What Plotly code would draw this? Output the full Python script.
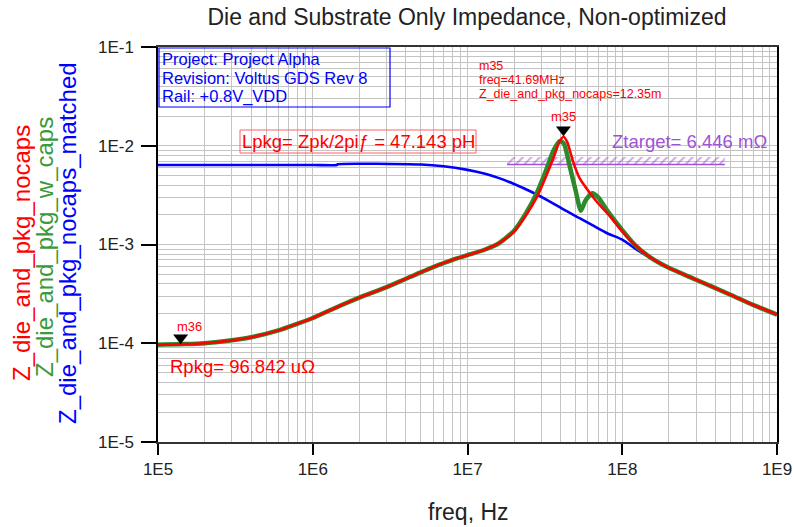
import numpy as np
import plotly.graph_objects as go

# ---------------- data ----------------
freq_red = [1e5, 1.5e5, 2e5, 3e5, 4e5, 6e5, 8e5, 1e6, 1.5e6, 2e6, 3e6, 4e6, 6e6, 8e6,
            1e7, 1.3e7, 1.6e7, 2e7, 2.4e7, 2.8e7, 3.2e7, 3.6e7, 3.9e7, 4.169e7, 4.4e7,
            4.8e7, 5.3e7, 6.2e7, 7e7, 8.3e7, 1e8, 1.2e8, 1.5e8, 2e8, 3e8, 5e8, 7e8, 1e9]
z_nocaps = [9.68e-5, 9.8e-5, 1.0e-4, 1.07e-4, 1.15e-4, 1.35e-4, 1.58e-4, 1.8e-4, 2.4e-4,
            2.9e-4, 3.7e-4, 4.5e-4, 5.9e-4, 7.0e-4, 7.8e-4, 8.9e-4, 1.03e-3, 1.35e-3,
            2.0e-3, 3.0e-3, 4.8e-3, 7.6e-3, 1.07e-2, 1.235e-2, 1.1e-2, 7.0e-3, 4.7e-3,
            3.3e-3, 2.6e-3, 1.95e-3, 1.35e-3, 1.0e-3, 7.5e-4, 5.8e-4, 4.4e-4, 3.1e-4,
            2.45e-4, 1.95e-4]

freq_green = [1e5, 1.5e5, 2e5, 3e5, 4e5, 6e5, 8e5, 1e6, 1.5e6, 2e6, 3e6, 4e6, 6e6, 8e6,
              1e7, 1.3e7, 1.6e7, 2e7, 2.4e7, 2.8e7, 3.2e7, 3.6e7, 3.96e7, 4.2e7, 4.6e7,
              5.0e7, 5.4e7, 5.8e7, 6.4e7, 7e7, 8e7, 1e8, 1.2e8, 1.5e8, 2e8, 3e8, 5e8, 7e8, 1e9]
z_w_caps = [9.68e-5, 9.8e-5, 1.0e-4, 1.07e-4, 1.15e-4, 1.35e-4, 1.58e-4, 1.8e-4, 2.4e-4,
            2.9e-4, 3.7e-4, 4.5e-4, 5.9e-4, 7.0e-4, 7.8e-4, 8.9e-4, 1.03e-3, 1.38e-3,
            2.1e-3, 3.3e-3, 5.5e-3, 9.0e-3, 1.12e-2, 1.05e-2, 6.0e-3, 3.5e-3, 2.2e-3,
            2.8e-3, 3.3e-3, 3.0e-3, 2.2e-3, 1.4e-3, 1.0e-3, 7.5e-4, 5.8e-4, 4.4e-4,
            3.1e-4, 2.45e-4, 1.95e-4]

freq_blue = [1e5, 1e6, 1.43e6, 1.45e6, 5e6, 7e6, 1e7, 1.3e7, 1.6e7, 2e7, 2.6e7, 3.3e7,
             4.2e7, 5.3e7, 6.5e7, 8e7, 1e8, 1.2e8, 1.5e8, 2e8, 3e8, 5e8, 7e8, 1e9]
z_matched = [6.38e-3, 6.38e-3, 6.38e-3, 6.5e-3, 6.45e-3, 6.2e-3, 5.7e-3, 5.2e-3, 4.7e-3,
             4.1e-3, 3.4e-3, 2.8e-3, 2.25e-3, 1.85e-3, 1.55e-3, 1.3e-3, 1.12e-3, 9.2e-4,
             7.4e-4, 5.8e-4, 4.4e-4, 3.1e-4, 2.45e-4, 1.95e-4]

ztarget = 6.446e-3
ztarget_band_top = 7.7e-3
ztarget_band_freq = [1.8e7, 4.6e8]

m35_freq, m35_val = 41.69e6, 12.35e-3
m36_freq, m36_val = 1.4e5, 96.842e-6

x_ticks = [1e5, 1e6, 1e7, 1e8, 1e9]
x_ticktext = ["1E5", "1E6", "1E7", "1E8", "1E9"]
y_ticks = [1e-5, 1e-4, 1e-3, 1e-2, 1e-1]
y_ticktext = ["1E-5", "1E-4", "1E-3", "1E-2", "1E-1"]

title = "Die and Substrate Only Impedance, Non-optimized"
info_lines = ["Project: Project Alpha", "Revision: Voltus GDS Rev 8", "Rail: +0.8V_VDD"]
m35_lines = ["m35", "freq=41.69MHz", "Z_die_and_pkg_nocaps=12.35m"]

# ---------------- styling ----------------
RED, GREEN, BLUE, PURPLE = "#ff0000", "#2b8a2b", "#0000ff", "#a052d6"
FONT = "Liberation Sans, Arial, sans-serif"
W, H = 794, 527
L, R, T, B = 158, 17, 47, 85
PW, PH = W - L - R, H - T - B
DEC_PX = PH / 4.0


def px(x):
    return (x - L) / PW


def py(y):
    return (H - B - y) / PH


def minor_vals(lo, hi):
    out = []
    for e in range(lo, hi):
        for d in range(2, 10):
            out.append(d * 10.0 ** e)
    return out


def text_ann(x, y, text, size, color, xanchor="center", **kw):
    d = dict(x=px(x), y=py(y), xref="paper", yref="paper", text=text, showarrow=False,
             xanchor=xanchor, yanchor="middle", font=dict(size=size, color=color, family=FONT))
    d.update(kw)
    return d


fig = go.Figure()

# Ztarget hatched band
fx = [ztarget_band_freq[0], ztarget_band_freq[1], ztarget_band_freq[1], ztarget_band_freq[0], ztarget_band_freq[0]]
fy = [ztarget, ztarget, ztarget_band_top, ztarget_band_top, ztarget]
fig.add_trace(go.Scatter(x=fx, y=fy, mode="lines", fill="toself", line=dict(width=0, color=PURPLE),
                         fillcolor="rgba(255,255,255,0)",
                         fillpattern=dict(shape="/", fgcolor=PURPLE, bgcolor="rgba(255,255,255,0)",
                                          size=6, solidity=0.35),
                         hoverinfo="skip", showlegend=False))
fig.add_trace(go.Scatter(x=ztarget_band_freq, y=[ztarget, ztarget], mode="lines",
                         line=dict(color=PURPLE, width=1.5), showlegend=False))

fig.add_trace(go.Scatter(x=freq_blue, y=z_matched, mode="lines",
                         line=dict(color=BLUE, width=2.6, shape="spline", smoothing=0.6), showlegend=False))
fig.add_trace(go.Scatter(x=freq_green, y=z_w_caps, mode="lines",
                         line=dict(color=GREEN, width=4.5, shape="spline", smoothing=0.6), showlegend=False))
fig.add_trace(go.Scatter(x=freq_red, y=z_nocaps, mode="lines",
                         line=dict(color=RED, width=2.6, shape="spline", smoothing=0.6), showlegend=False))

# markers (triangles sit just above the marked points)
off = 10 ** (7 / DEC_PX)
fig.add_trace(go.Scatter(x=[m35_freq, m36_freq], y=[m35_val * off, m36_val * off], mode="markers",
                         marker=dict(symbol="triangle-down", size=13, color="black"), showlegend=False))

ann = []
ann.append(dict(x=np.log10(m35_freq), y=np.log10(m35_val), xref="x", yref="y", text="m35",
                showarrow=False, yshift=20, xanchor="center", yanchor="middle",
                font=dict(size=13, color=RED, family=FONT)))
ann.append(dict(x=np.log10(m36_freq), y=np.log10(m36_val), xref="x", yref="y", text="m36",
                showarrow=False, yshift=18, xshift=9, xanchor="center", yanchor="middle",
                font=dict(size=13, color=RED, family=FONT)))

# info box
for i, t in enumerate(info_lines):
    ann.append(text_ann(160, 59.5 + 18.5 * i, t, 16.5, BLUE, xanchor="left"))
for i, t in enumerate(m35_lines):
    ann.append(text_ann(477, 66 + 14 * i, t, 12.5, RED, xanchor="left"))

ann.append(text_ann(358, 141.5, "Lpkg= Zpk/2pi\u0192 = 47.143 pH", 18.5, RED))
ann.append(text_ann(689, 141, "Ztarget= 6.446 m\u03a9", 18.5, PURPLE))
ann.append(text_ann(168, 366, "Rpkg= 96.842 u\u03a9", 18.5, RED, xanchor="left"))

# y axis titles (three coloured lines)
ann.append(text_ann(21, 253, "Z_die_and_pkg_nocaps", 24, RED, textangle=-90))
ann.append(text_ann(44, 247, "Z_die_and_pkg_w_caps", 24, "#3a9a3a", textangle=-90))
ann.append(text_ann(67, 243, "Z_die_and_pkg_nocaps_matched", 24, BLUE, textangle=-90))
# x axis title
ann.append(text_ann(468, 512, "freq, Hz", 23, "#222"))

shapes = [
    dict(type="rect", xref="paper", yref="paper", x0=px(159), x1=px(390), y0=py(107), y1=py(48),
         line=dict(color=BLUE, width=1.2)),
    dict(type="rect", xref="paper", yref="paper", x0=px(240), x1=px(476), y0=py(153), y1=py(130),
         line=dict(color="#ff6060", width=1)),
]

fig.update_layout(
    width=W, height=H, margin=dict(l=L, r=R, t=T, b=B, autoexpand=False),
    paper_bgcolor="white", plot_bgcolor="white", showlegend=False,
    title=dict(text=title, x=467 / W, xanchor="center", y=1 - 17 / H, yanchor="middle",
               font=dict(size=23, color="#222", family=FONT)),
    annotations=ann, shapes=shapes,
    xaxis=dict(type="log", range=[5, 9], tickvals=x_ticks, ticktext=x_ticktext, ticks="outside",
               ticklen=11, tickwidth=1.5, tickcolor="black", showline=True, linecolor="#333",
               linewidth=1.5, mirror=True, showgrid=True, gridcolor="#c4c4c4", gridwidth=1,
               tickfont=dict(size=17, color="#222", family=FONT), zeroline=False,
               minor=dict(tickmode="array", tickvals=minor_vals(5, 9), showgrid=True,
                          gridcolor="#c4c4c4", gridwidth=1, ticks="")),
    yaxis=dict(type="log", range=[-5, -1], tickvals=y_ticks, ticktext=y_ticktext, ticks="outside",
               ticklen=15, tickwidth=1.5, tickcolor="black", showline=True, linecolor="black",
               linewidth=1.5, mirror=True, showgrid=True, gridcolor="#c4c4c4", gridwidth=1,
               tickfont=dict(size=17, color="#222", family=FONT), zeroline=False,
               ticklabelstandoff=4,
               minor=dict(tickmode="array", tickvals=minor_vals(-5, -1), showgrid=True,
                          gridcolor="#c4c4c4", gridwidth=1, ticks="")),
)

fig.write_html("out.html", config={"displayModeBar": False},
               post_script="document.body.style.margin='0';document.body.style.overflow='hidden';")
